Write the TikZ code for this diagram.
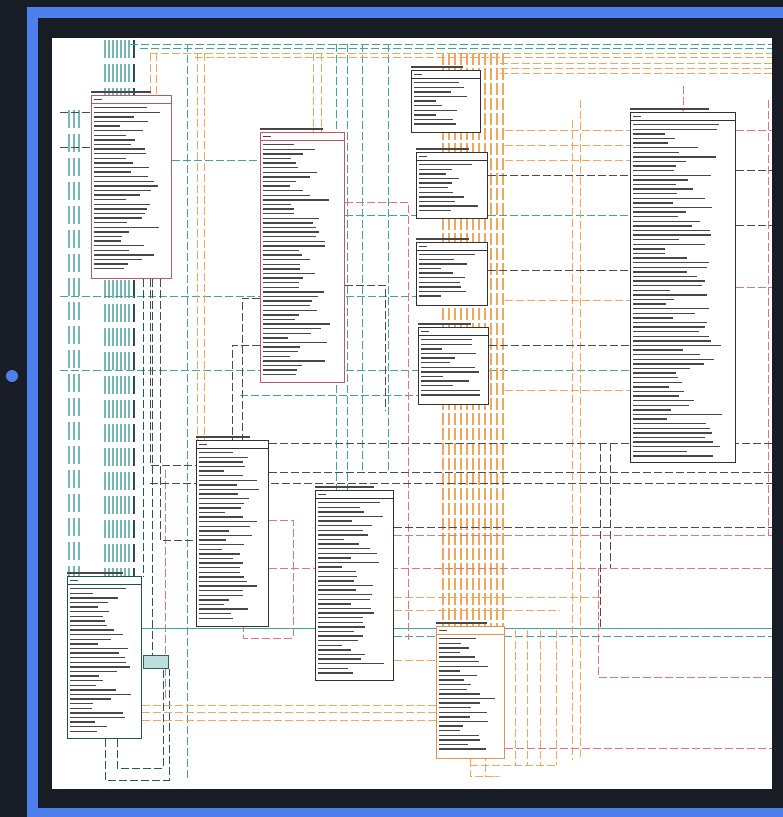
\documentclass[tikz,border=0pt]{standalone}
\usepackage{xcolor}
\usepackage{tikz}
\usetikzlibrary{arrows.meta,calc,positioning}

\definecolor{erbg}{RGB}{23,28,37}
\definecolor{erblue}{RGB}{77,128,236}
\definecolor{erteal}{RGB}{70,162,158}
\definecolor{erorange}{RGB}{242,166,92}
\definecolor{erred}{RGB}{232,112,128}
\definecolor{erbox}{RGB}{50,50,50}

\pgfdeclarelayer{frame}
\pgfdeclarelayer{links}
\pgfsetlayers{frame,links,main}

% one table: name, x, y, width, height, border colour
\newcommand{\ertable}[6]{%
  \node[tbl,draw=#6,minimum width=#4pt,minimum height=#5pt] (#1) at (#2,#3) {};
  \draw[row] ([yshift=3pt]#1.north west) -- ++(0.75*#4,0);
  \draw[#6,line width=0.6pt] ($(#1.north west)+(0,8)$) -- ($(#1.north east)+(0,8)$);
  \draw[row] ($(#1.north west)+(3,4.5)$) -- ++(8,0);
  \pgfmathtruncatemacro\nrows{(#5-14)/4.6}
  \foreach \r in {1,...,\nrows}{
    \pgfmathsetmacro\len{(0.3+0.55*rnd)*#4}
    \draw[row] ($(#1.north west)+(3,8+4.6*\r)$) -- ++(\len,0);
  }
}

\begin{document}
\begin{tikzpicture}[x=1pt,y=-1pt,
  tbl/.style={rectangle,fill=white,anchor=north west,line width=0.9pt,inner sep=0pt},
  row/.style={black!72,line width=1.4pt},
  tl/.style={erteal,line width=0.8pt,dash pattern=on 8pt off 3pt},
  tlb/.style={erteal!75,line width=2.3pt,dash pattern=on 18pt off 6pt},
  tls/.style={erteal,line width=1pt},
  tk/.style={erteal!55!black,line width=0.8pt,dash pattern=on 8pt off 3pt},
  og/.style={erorange,line width=0.8pt,dash pattern=on 8pt off 3pt},
  ogb/.style={erorange,line width=1.3pt,dash pattern=on 12pt off 3pt},
  rd/.style={erred,line width=0.8pt,dash pattern=on 8pt off 3pt},
  dk/.style={black!70,line width=0.8pt,dash pattern=on 8pt off 3pt}]
  \useasboundingbox (0,0) rectangle (783,817);
  \pgfmathsetseed{11}

  \begin{pgfonlayer}{frame}
    \fill[erbg] (0,0) rectangle (783,817);
    \fill[erblue] (27,7) rectangle (790,817);
    \fill[erbg] (38,18) rectangle (790,808);
    \fill[white] (52,38) rectangle (772,789);
    \fill[erblue] (12,376) circle[radius=6];
  \end{pgfonlayer}

  % tables
  \ertable{t1}{91}{95}{80}{183}{erred!80!black}
  \ertable{t2}{260}{132}{84}{250}{erred!80!black}
  \ertable{t3}{411}{70}{69}{62}{erbox}
  \ertable{t4}{416}{152}{71}{66}{erbox}
  \ertable{t5}{416}{242}{71}{63}{erbox}
  \ertable{t6}{418}{327}{70}{77}{erbox}
  \ertable{t7}{630}{112}{105}{350}{erbox}
  \ertable{t8}{196}{440}{72}{186}{erbox}
  \ertable{t9}{67}{576}{74}{162}{erteal!50!black}
  \ertable{t10}{315}{490}{78}{190}{erbox}
  \ertable{t11}{436}{626}{68}{132}{erorange!90!black}
  \node[tbl,draw=erteal!60!black,fill=erteal!35,minimum width=25pt,minimum height=13pt] (t12) at (143,655) {};

  \begin{pgfonlayer}{links}
  \begin{scope}
    \clip (52,38) rectangle (772,789);
    % teal bundles
    \foreach \x in {69,74,79} \draw[tlb] (\x,110) -- (\x,0 |- t9.north);
    \foreach \x in {105,109,...,129} \draw[tlb] (\x,40) -- (\x,0 |- t9.north);
    \draw[tlb,erteal!50!black] (134,40) -- (134,0 |- t9.north);
    \draw[tl] (130,44) -- (772,44);
    \draw[tl] (140,48) -- (772,48);
    \draw[tl] (187,44) -- (187,780);
    \foreach \x in {336,347} \draw[tl] (\x,44) -- (\x,0 |- t10.north);
    \foreach \x in {362,388} \draw[tl] (\x,44) -- (\x,470);
    \draw[tl] (t1.east |- 0,160) -- (t2.west |- 0,160);
    \draw[tl] (t2.east |- 0,215) -- (t7.west |- 0,215);
    \draw[tl] (60,296) -- (t5.west |- 0,296);
    \draw[tl] (60,370) -- (t7.west |- 0,370);
    \draw[tl] (240,395) -- (t6.west |- 0,395);
    \draw[tls] (t9.east |- 0,628) -- (772,628);
    \draw[tl] (t10.east |- 0,636) -- (772,636);
    \draw[tk] (105,0 |- t9.south) -- (105,780) -| (t12.south east);
    \draw[tk] (117,0 |- t9.south) -- (117,768) -| ([xshift=-6pt]t12.south east);
    \draw[tk] (143,0 |- t1.south) -- (143,0 |- t9.north);
    \draw[tk] (152,0 |- t1.south) -- (152,0 |- t12.north);
    % orange
    \draw[og] (150,53) -- (772,53);
    \draw[og] (195,57) -- (772,57);
    \foreach \y in {63,68,73} \draw[og] (500,\y) -- (772,\y);
    \foreach \x in {443,449,...,503} \draw[ogb] (\x,53) -- (\x,0 |- t11.north);
    \foreach \x in {150,156} \draw[og] (\x,53) -- (\x,0 |- t1.north);
    \foreach \x in {197,204} \draw[og] (\x,53) -- (\x,0 |- t8.north);
    \foreach \x in {313,321} \draw[og] (\x,53) -- (\x,0 |- t2.north);
    \foreach \y in {130,145,160,300,390} \draw[og] (505,\y) -- (t7.west |- 0,\y);
    \draw[og] (572,120) -- (572,760);
    \draw[og] (580,100) -- (580,760);
    \foreach \y in {705,712,720} \draw[og] (t9.east |- 0,\y) -- (t11.west |- 0,\y);
    \draw[og] (t10.east |- 0,597) -- (600,597);
    \draw[og] (t10.east |- 0,610) -- (560,610);
    \draw[og] (t10.east |- 0,660) -- (t11.west |- 0,660);
    \foreach \x in {515,527,540,556} \draw[og] (\x,630) -- (\x,765);
    \draw[og] (470,765) -- (556,765);
    \draw[og] (470,0 |- t11.south) |- (500,776) -| (485,0 |- t11.south);
    % red
    \draw[rd] (t8.east |- 0,568) -- (772,568);
    \draw[rd] (t10.east |- 0,535) -- (772,535);
    \draw[rd] (598,568) |- (772,677);
    \draw[rd] (t11.east |- 0,748) -- (772,748);
    \draw[rd] (768,100) -- (768,535);
    \draw[rd] (t2.east |- 0,202) -| (408,640);
    \draw[rd] (t8.east |- 0,520) -| (293,638) -| (243,0 |- t8.south);
    \draw[rd] (165,470) -- (165,700);
    \draw[rd,-{Stealth[length=3pt]}] (683,86) -- (683,0 |- t7.north);
    \draw[rd] (t7.east |- 0,130) -- (772,130);
    \draw[rd] (t7.east |- 0,287) -- (772,287);
    % dark
    \draw[dk] (t7.east |- 0,170) -- (772,170);
    \draw[dk] (t7.east |- 0,225) -- (772,225);
    \draw[dk] (t8.east |- 0,443) -- (772,443);
    \draw[dk] (t8.east |- 0,472) -- (772,472);
    \draw[dk] (150,483) -- (772,483);
    \draw[dk] (t10.east |- 0,527) -- (772,527);
    \draw[dk] (600,443) -- (600,628);
    \draw[dk] (610,443) -- (610,568);
    \draw[dk] (t2.west |- 0,298) -| (242,0 |- t8.north);
    \draw[dk] (t2.west |- 0,345) -| (232,0 |- t8.north);
    \draw[dk] (t2.east |- 0,285) -| (385,410);
    \draw[dk] (150,0 |- t1.south) |- (t8.west |- 0,465);
    \draw[dk] (160,0 |- t1.south) |- (t8.west |- 0,540);
    \draw[dk] (t4.east |- 0,175) -- (t7.west |- 0,175);
    \draw[dk] (t5.east |- 0,270) -- (t7.west |- 0,270);
    \draw[dk] (t6.east |- 0,345) -- (t7.west |- 0,345);
    \draw[dk] (60,112) -- (t1.west |- 0,112);
    \draw[dk] (60,147) -- (t1.west |- 0,147);
  \end{scope}
  \end{pgfonlayer}
\end{tikzpicture}
\end{document}
